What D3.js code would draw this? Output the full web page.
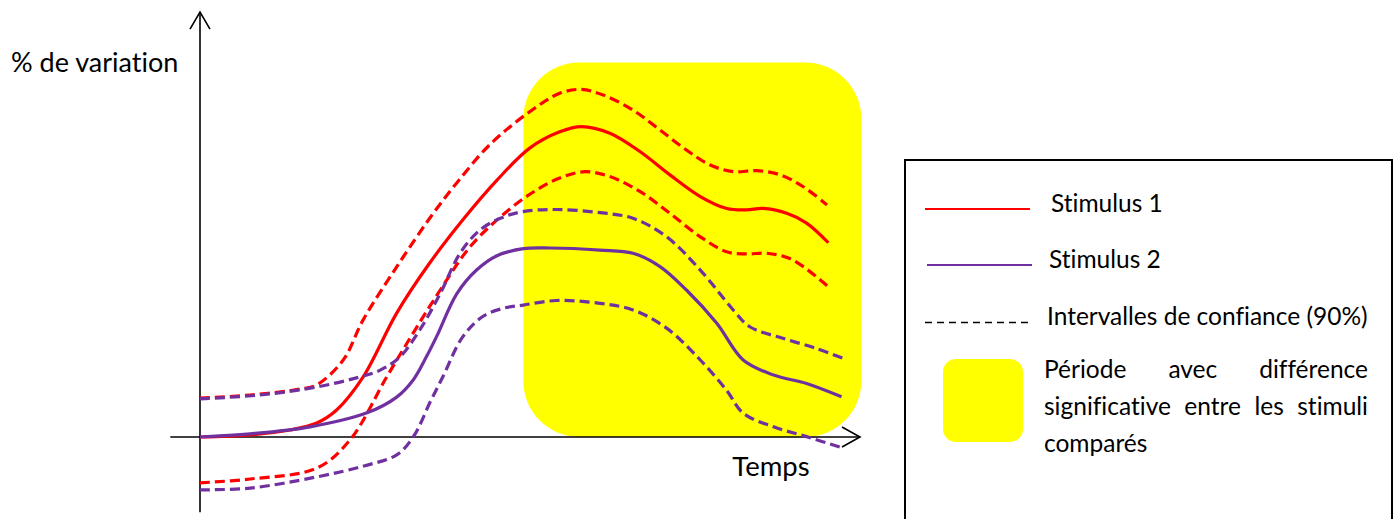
<!DOCTYPE html>
<html>
<head>
<meta charset="utf-8">
<script src="https://cdn.jsdelivr.net/npm/d3@7"></script>
<style>
  body { margin: 0; background: #fff; }
  svg { display: block; }
  text { font-family: Lato, "Open Sans", sans-serif; fill: #000; font-variant-ligatures: none; }
</style>
</head>
<body>
<div id="chart"></div>
<script>
// time (arbitrary units) and % de variation
const stim1 = [[0,0],[0.76,0.6],[1.36,2.0],[1.77,4.0],[2.07,7.7],[2.47,17.1],[2.98,35.4],[3.48,49.7],[3.98,62.0],[4.5,73.4],[5.0,82.6],[5.45,87.2],[5.78,88.7],[6.21,86.8],[6.67,81.5],[7.12,74.9],[7.58,68.7],[7.98,65.3],[8.28,64.9],[8.53,65.3],[8.89,63.9],[9.19,61.1],[9.52,55.5]];
const stim1Upper = [[0,11.1],[0.76,12.0],[1.52,13.7],[1.77,14.9],[2.17,22.0],[2.47,33.4],[2.98,48.6],[3.48,62.5],[3.89,72.6],[4.39,83.5],[5.0,93.0],[5.45,98.2],[5.78,99.3],[6.11,97.7],[6.56,93.4],[6.97,87.7],[7.37,82.0],[7.73,77.7],[8.08,75.8],[8.43,76.1],[8.79,74.9],[9.14,71.5],[9.5,66.3]];
const stim1Lower = [[0,-13.1],[0.76,-12.0],[1.77,-8.9],[2.27,-0.9],[2.83,17.2],[3.23,29.7],[3.64,42.0],[4.09,54.3],[4.59,63.5],[5.05,70.0],[5.45,74.0],[5.83,75.8],[6.21,74.4],[6.67,70.1],[7.12,63.9],[7.58,57.2],[7.98,52.9],[8.28,52.3],[8.59,52.5],[8.98,50.6],[9.52,42.9]];
const stim2 = [[0,0],[0.76,0.9],[1.67,2.9],[2.53,6.9],[2.98,11.4],[3.23,16.3],[3.43,22.9],[3.59,28.9],[3.89,40.9],[4.19,47.7],[4.5,51.8],[4.9,53.8],[5.3,54.0],[6.06,53.4],[6.56,52.5],[6.97,48.7],[7.37,42.0],[7.83,32.5],[8.23,22.0],[8.69,17.7],[9.19,15.3],[9.72,11.5]];
const stim2Upper = [[0,10.9],[0.91,12.0],[1.77,14.3],[2.37,16.9],[2.73,19.1],[3.03,22.9],[3.33,30.6],[3.64,41.0],[3.94,52.5],[4.24,59.1],[4.55,62.5],[4.89,64.4],[5.4,65.0],[6.06,64.1],[6.56,62.5],[7.07,57.2],[7.58,47.7],[8.08,36.3],[8.33,31.5],[8.83,28.2],[9.34,25.3],[9.74,22.5]];
const stim2Lower = [[0,-15.1],[0.76,-14.6],[1.77,-11.4],[2.5,-8.2],[2.98,-5.1],[3.23,0],[3.5,10.5],[3.68,17.2],[3.98,28.6],[4.29,34.5],[4.6,36.8],[4.9,37.7],[5.4,39.0],[6.06,38.2],[6.56,36.3],[7.07,31.1],[7.58,22.0],[7.98,13.3],[8.23,6.8],[8.69,2.9],[9.19,0.1],[9.75,-3.2]];

// significant period (time) and its vertical span (%)
const sigPeriod = [4.9, 10.02];
const sigSpan = [0, 107];

const legendLabels = ['Stimulus 1', 'Stimulus 2', 'Intervalles de confiance (90%)'];
const legendNote = [['Période', 'avec', 'différence'], ['significative', 'entre', 'les', 'stimuli'], ['comparés']];

const RED = '#ff0000', PURPLE = '#7030a0', YELLOW = '#ffff00';

const width = 1395, height = 519;
const svg = d3.select('#chart').append('svg')
    .attr('width', width)
    .attr('height', height);

const x = d3.scaleLinear().domain([0, 10]).range([200, 860]);
const y = d3.scaleLinear().domain([-20, 120]).range([507, 17]);

// yellow significance box
svg.append('rect')
    .attr('x', x(sigPeriod[0]))
    .attr('y', y(sigSpan[1]))
    .attr('width', x(sigPeriod[1]) - x(sigPeriod[0]))
    .attr('height', y(sigSpan[0]) - y(sigSpan[1]))
    .attr('rx', 56).attr('ry', 56)
    .attr('fill', YELLOW);

// axes with open arrowheads
const axes = svg.append('g').attr('stroke', '#000').attr('stroke-width', 1.6).attr('fill', 'none');
axes.append('line')
    .attr('x1', x(-0.45)).attr('x2', x(10))
    .attr('y1', y(0)).attr('y2', y(0));
axes.append('path')
    .attr('d', `M${x(10) - 18},${y(0) - 10}L${x(10)},${y(0)}L${x(10) - 18},${y(0) + 10}`);
axes.append('line')
    .attr('x1', x(0)).attr('x2', x(0))
    .attr('y1', y(-21.5)).attr('y2', y(121.4));
axes.append('path')
    .attr('d', `M${x(0) - 10},${y(121.4) + 17}L${x(0)},${y(121.4)}L${x(0) + 10},${y(121.4) + 17}`);

svg.append('text')
    .attr('x', 11).attr('y', 72)
    .style('font-size', '27px')
    .text('% de variation');
svg.append('text')
    .attr('x', 771).attr('y', 476)
    .attr('text-anchor', 'middle')
    .style('font-size', '27.5px')
    .text('Temps');

// curves
const line = d3.line()
    .x(d => x(d[0]))
    .y(d => y(d[1]))
    .curve(d3.curveCatmullRom.alpha(0.5));

const series = [
    { data: stim1Upper, color: RED, dash: '10,5' },
    { data: stim1Lower, color: RED, dash: '10,5' },
    { data: stim1, color: RED, dash: null },
    { data: stim2Upper, color: PURPLE, dash: '10,5' },
    { data: stim2Lower, color: PURPLE, dash: '10,5' },
    { data: stim2, color: PURPLE, dash: null }
];

svg.append('g').selectAll('path')
    .data(series)
    .join('path')
    .attr('d', d => line(d.data))
    .attr('fill', 'none')
    .attr('stroke', d => d.color)
    .attr('stroke-width', 3.2)
    .attr('stroke-dasharray', d => d.dash);

// legend
const legend = svg.append('g');
legend.append('rect')
    .attr('x', 905).attr('y', 160)
    .attr('width', 487).attr('height', 380)
    .attr('fill', '#fff')
    .attr('stroke', '#000')
    .attr('stroke-width', 2);

const legendRows = [
    { color: RED, dash: null, width: 2.2, y: 209, x0: 925, textX: 1051, textY: 212 },
    { color: PURPLE, dash: null, width: 2.2, y: 265, x0: 927, textX: 1049, textY: 268 },
    { color: '#000', dash: '7,5', width: 1.6, y: 322.5, x0: 925, textX: 1047, textY: 325 }
];
legendRows.forEach((r, i) => {
    legend.append('line')
        .attr('x1', r.x0).attr('x2', r.x0 + 105)
        .attr('y1', r.y).attr('y2', r.y)
        .attr('stroke', r.color)
        .attr('stroke-width', r.width)
        .attr('stroke-dasharray', r.dash);
    legend.append('text')
        .attr('x', r.textX).attr('y', r.textY)
        .style('font-size', '24.5px')
        .text(legendLabels[i]);
});

legend.append('rect')
    .attr('x', 943).attr('y', 359)
    .attr('width', 80).attr('height', 83)
    .attr('rx', 13).attr('ry', 13)
    .attr('fill', YELLOW);

// justified note text
const noteLeft = 1044, noteRight = 1368;
legendNote.forEach((words, li) => {
    const ty = 378 + li * 37;
    const texts = words.map(w => legend.append('text')
        .attr('y', ty)
        .style('font-size', '24.5px')
        .text(w));
    if (li === legendNote.length - 1) {
        texts[0].attr('x', noteLeft);
        return;
    }
    const widths = texts.map(t => t.node().getComputedTextLength());
    const gap = (noteRight - noteLeft - d3.sum(widths)) / (words.length - 1);
    let cx = noteLeft;
    texts.forEach((t, i) => {
        t.attr('x', cx);
        cx += widths[i] + gap;
    });
});
</script>
</body>
</html>
